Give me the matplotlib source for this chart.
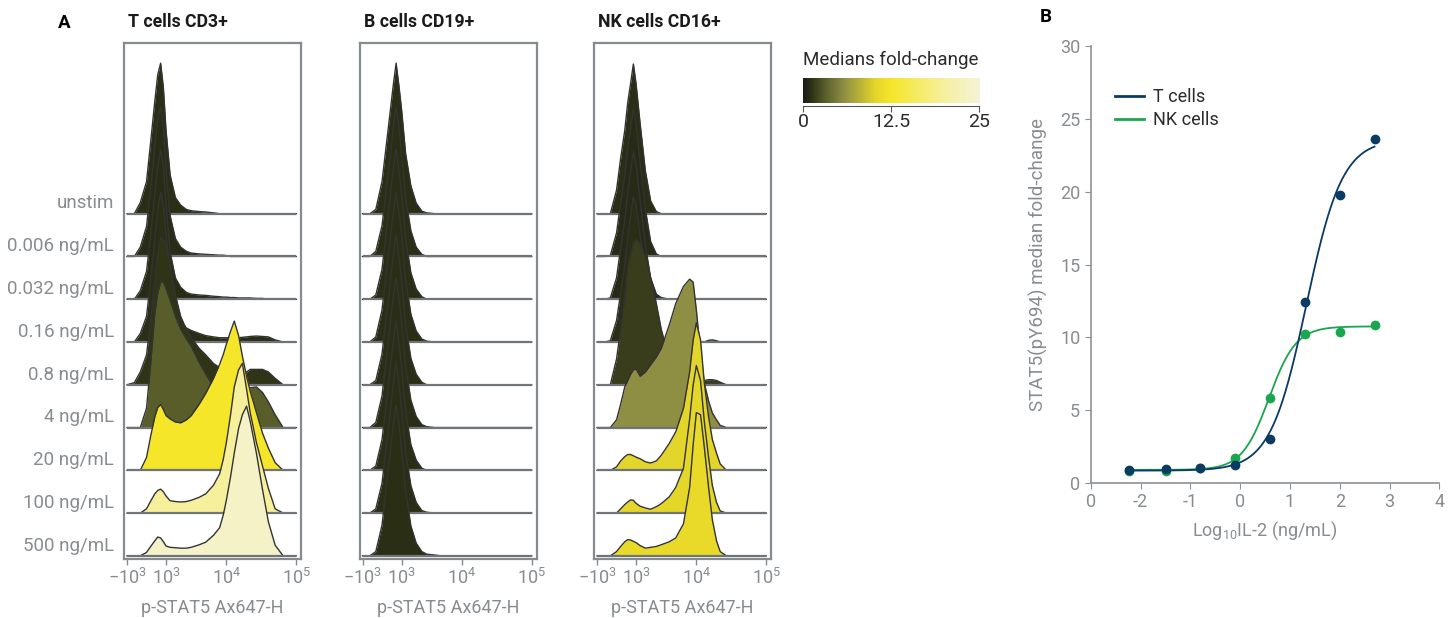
import numpy as np
import matplotlib
matplotlib.use("Agg")
import matplotlib.pyplot as plt
from matplotlib.colors import LinearSegmentedColormap, Normalize
from matplotlib.ticker import NullLocator

plt.rcParams['font.family'] = ['Roboto', 'DejaVu Sans']
plt.rcParams['mathtext.fontset'] = 'custom'
plt.rcParams['mathtext.rm'] = 'Roboto'
plt.rcParams['mathtext.it'] = 'Roboto:italic'
plt.rcParams['mathtext.bf'] = 'Roboto:bold'

# ---- stimulation conditions ----
row_labels = ['unstim', '0.006 ng/mL', '0.032 ng/mL', '0.16 ng/mL', '0.8 ng/mL',
              '4 ng/mL', '20 ng/mL', '100 ng/mL', '500 ng/mL']
il2_ng = [0.006, 0.032, 0.16, 0.8, 4, 20, 100, 500]

# median fold-change of p-STAT5 vs unstim
t_fold = [0.89, 0.97, 1.05, 1.27, 3.03, 12.42, 19.75, 23.6]
nk_fold = [0.84, 0.85, 1.0, 1.73, 5.84, 10.22, 10.36, 10.85]
b_fold = [1.0, 1.0, 0.98, 1.0, 1.01, 1.0, 0.99, 1.02, 1.0]

# 4PL fits (bottom, top, logEC50, hill)
t_fit = [0.85, 23.6, 1.33, 1.2]
nk_fit = [0.9, 10.75, 0.58, 1.6]

# ---- histogram channel grid (p-STAT5 Ax647-H) ----
intensity = [-1000, -600, -300, 0, 200, 400, 550, 700, 850, 1000, 1250, 1600,
             2000, 2500, 3000, 4000, 5000, 6500, 8000, 9000, 10000, 11500,
             13000, 15000, 17000, 19500, 22000, 27000, 33000, 40000, 50000,
             65000, 100000]

# modal-normalised counts, in units of row spacing (unstim first)
t_counts = [
    [0, 0, 0.26, 0.75, 1.68, 2.62, 3.25, 3.52, 2.95, 1.95, 0.9, 0.38, 0.2, 0.1, 0.07, 0.05, 0.04, 0.02, 0, 0, 0, 0, 0, 0, 0, 0, 0, 0, 0, 0, 0, 0, 0],
    [0, 0, 0.22, 0.7, 1.6, 2.55, 3.2, 3.5, 3.0, 2.0, 0.95, 0.42, 0.22, 0.12, 0.08, 0.06, 0.05, 0.04, 0.03, 0.03, 0.02, 0, 0, 0, 0, 0, 0, 0, 0, 0, 0, 0, 0],
    [0, 0, 0.2, 0.65, 1.5, 2.45, 3.1, 3.5, 3.1, 2.2, 1.1, 0.5, 0.28, 0.16, 0.12, 0.1, 0.09, 0.07, 0.06, 0.05, 0.05, 0.04, 0.04, 0.03, 0.03, 0.03, 0.03, 0.02, 0.02, 0, 0, 0, 0],
    [0, 0, 0.2, 0.6, 1.45, 2.4, 3.05, 3.5, 3.2, 2.5, 1.6, 0.9, 0.5, 0.33, 0.27, 0.2, 0.15, 0.12, 0.1, 0.1, 0.1, 0.1, 0.1, 0.1, 0.11, 0.12, 0.13, 0.14, 0.13, 0.12, 0.05, 0, 0],
    [0, 0.05, 0.3, 0.7, 1.5, 2.4, 3.0, 3.45, 3.4, 3.3, 2.8, 2.1, 1.6, 1.3, 1.1, 0.85, 0.7, 0.5, 0.4, 0.35, 0.3, 0.27, 0.25, 0.25, 0.25, 0.3, 0.36, 0.36, 0.36, 0.3, 0.15, 0, 0],
    [0, 0, 0, 0.45, 1.5, 2.65, 3.15, 3.4, 3.4, 3.25, 2.98, 2.6, 2.3, 2.07, 1.9, 1.52, 1.25, 0.96, 0.82, 0.75, 0.7, 0.66, 0.65, 0.66, 0.7, 0.82, 0.93, 0.95, 0.82, 0.6, 0.3, 0, 0],
    [0, 0, 0, 0.3, 0.8, 1.25, 1.47, 1.54, 1.42, 1.28, 1.2, 1.13, 1.11, 1.18, 1.28, 1.55, 1.8, 2.15, 2.48, 2.7, 2.95, 3.25, 3.49, 3.15, 2.67, 2.2, 1.85, 1.35, 0.87, 0.52, 0.18, 0, 0],
    [0, 0, 0, 0.1, 0.28, 0.45, 0.53, 0.56, 0.5, 0.4, 0.29, 0.27, 0.26, 0.27, 0.3, 0.37, 0.45, 0.65, 0.92, 1.25, 1.65, 2.3, 2.95, 3.35, 3.5, 2.9, 2.35, 1.65, 1.1, 0.58, 0.1, 0, 0],
    [0, 0, 0, 0.08, 0.22, 0.35, 0.44, 0.42, 0.33, 0.23, 0.2, 0.19, 0.18, 0.18, 0.2, 0.26, 0.32, 0.48, 0.66, 0.95, 1.3, 1.85, 2.4, 2.98, 3.3, 3.5, 3.15, 2.4, 1.55, 0.8, 0.25, 0, 0],
]

b_counts = [
    [0, 0, 0.1, 0.75, 1.58, 2.4, 3.0, 3.52, 3.0, 2.45, 1.4, 0.65, 0.25, 0.06, 0.02, 0, 0, 0, 0, 0, 0, 0, 0, 0, 0, 0, 0, 0, 0, 0, 0, 0, 0],
    [0, 0, 0.12, 0.72, 1.55, 2.35, 3.0, 3.5, 3.05, 2.4, 1.35, 0.6, 0.22, 0.05, 0, 0, 0, 0, 0, 0, 0, 0, 0, 0, 0, 0, 0, 0, 0, 0, 0, 0, 0],
    [0, 0, 0.1, 0.7, 1.55, 2.4, 3.05, 3.5, 3.0, 2.45, 1.4, 0.62, 0.24, 0.06, 0, 0, 0, 0, 0, 0, 0, 0, 0, 0, 0, 0, 0, 0, 0, 0, 0, 0, 0],
    [0, 0, 0.12, 0.75, 1.6, 2.4, 3.0, 3.5, 3.05, 2.5, 1.45, 0.65, 0.26, 0.07, 0.02, 0, 0, 0, 0, 0, 0, 0, 0, 0, 0, 0, 0, 0, 0, 0, 0, 0, 0],
    [0, 0, 0.1, 0.72, 1.58, 2.38, 3.0, 3.52, 3.0, 2.45, 1.4, 0.62, 0.25, 0.06, 0, 0, 0, 0, 0, 0, 0, 0, 0, 0, 0, 0, 0, 0, 0, 0, 0, 0, 0],
    [0, 0, 0.12, 0.74, 1.6, 2.42, 3.05, 3.5, 3.05, 2.45, 1.42, 0.64, 0.26, 0.07, 0.02, 0, 0, 0, 0, 0, 0, 0, 0, 0, 0, 0, 0, 0, 0, 0, 0, 0, 0],
    [0, 0, 0.1, 0.72, 1.56, 2.4, 3.0, 3.5, 3.0, 2.42, 1.38, 0.6, 0.24, 0.05, 0, 0, 0, 0, 0, 0, 0, 0, 0, 0, 0, 0, 0, 0, 0, 0, 0, 0, 0],
    [0, 0, 0.1, 0.7, 1.55, 2.38, 3.0, 3.52, 3.05, 2.45, 1.42, 0.64, 0.25, 0.06, 0.02, 0, 0, 0, 0, 0, 0, 0, 0, 0, 0, 0, 0, 0, 0, 0, 0, 0, 0],
    [0, 0, 0.1, 0.72, 1.58, 2.42, 3.05, 3.52, 3.1, 2.5, 1.5, 0.7, 0.3, 0.1, 0.04, 0.02, 0, 0, 0, 0, 0, 0, 0, 0, 0, 0, 0, 0, 0, 0, 0, 0, 0],
]

nk_counts = [
    [0, 0, 0, 0.55, 1.3, 1.95, 2.6, 3.05, 3.5, 3.05, 2.1, 1.0, 0.3, 0.05, 0, 0, 0, 0, 0, 0, 0, 0, 0, 0, 0, 0, 0, 0, 0, 0, 0, 0, 0],
    [0, 0, 0.02, 0.55, 1.25, 1.9, 2.55, 3.0, 3.45, 3.1, 2.2, 1.1, 0.35, 0.06, 0, 0, 0, 0, 0, 0, 0, 0, 0, 0, 0, 0, 0, 0, 0, 0, 0, 0, 0],
    [0, 0, 0.03, 0.5, 1.2, 1.85, 2.5, 3.0, 3.45, 3.15, 2.3, 1.25, 0.5, 0.12, 0.04, 0, 0, 0, 0, 0, 0, 0, 0, 0, 0, 0, 0, 0, 0, 0, 0, 0, 0],
    [0, 0, 0.03, 0.5, 1.15, 1.8, 2.45, 2.95, 3.4, 3.2, 2.5, 1.5, 0.7, 0.25, 0.1, 0.04, 0.02, 0, 0, 0, 0, 0, 0, 0.04, 0.05, 0.03, 0, 0, 0, 0, 0, 0, 0],
    [0, 0, 0, 0.6, 1.3, 2.05, 2.75, 3.05, 3.3, 3.4, 3.3, 3.0, 2.5, 1.9, 1.3, 0.6, 0.35, 0.2, 0.15, 0.12, 0.1, 0.1, 0.1, 0.12, 0.12, 0.1, 0.06, 0, 0, 0, 0, 0, 0],
    [0, 0, 0, 0.18, 0.55, 0.95, 1.1, 1.25, 1.35, 1.37, 1.2, 1.3, 1.47, 1.65, 1.85, 2.4, 2.9, 3.3, 3.47, 3.4, 2.75, 1.75, 1.05, 0.62, 0.34, 0.18, 0.05, 0, 0, 0, 0, 0, 0],
    [0, 0, 0, 0.08, 0.22, 0.32, 0.37, 0.37, 0.34, 0.31, 0.27, 0.2, 0.17, 0.22, 0.35, 0.63, 0.9, 1.45, 2.3, 3.05, 3.45, 3.05, 2.05, 1.25, 0.72, 0.4, 0.15, 0, 0, 0, 0, 0, 0],
    [0, 0, 0, 0, 0.1, 0.2, 0.26, 0.31, 0.3, 0.23, 0.16, 0.12, 0.09, 0.15, 0.22, 0.38, 0.6, 1.05, 2.2, 3.0, 3.45, 3.1, 2.15, 1.3, 0.64, 0.25, 0.05, 0, 0, 0, 0, 0, 0],
    [0, 0, 0, 0.1, 0.22, 0.33, 0.38, 0.37, 0.34, 0.31, 0.24, 0.18, 0.2, 0.22, 0.26, 0.33, 0.42, 0.75, 1.6, 2.6, 3.35, 3.3, 2.55, 1.6, 0.84, 0.35, 0.1, 0, 0, 0, 0, 0, 0],
]

panel_titles = ['T cells CD3+', 'B cells CD19+', 'NK cells CD16+']
panel_counts = [t_counts, b_counts, nk_counts]
panel_fold = [[1.0] + t_fold, b_fold, [1.0] + nk_fold]

# fold-change colour scale: black -> olive -> yellow -> cream
fold_cmap = LinearSegmentedColormap.from_list('fold', [
    (0.0, '#1c1c1c'), (0.04, '#2a2e14'), (0.12, '#585c2a'), (0.23, '#8e8e44'),
    (0.41, '#e4d62a'), (0.5, '#f6e62a'), (0.79, '#f6f09c'), (1.0, '#f5f3d8')])
fold_norm = Normalize(0, 25)

gray_txt = '#878c90'
dark_txt = '#2b2b2b'
spine_col = '#858b8f'

fig = plt.figure(figsize=(14.55, 6.18), dpi=100)

x = np.array(intensity, dtype=float)
panel_left = [124, 359.5, 594]
for k in range(3):
    ax = fig.add_axes([panel_left[k] / 1455, 0.095, 177 / 1455, 0.836])
    ax.set_xscale('asinh', linear_width=1457)
    ax.set_xlim(-1180, 1.17e5)
    ax.set_ylim(-0.08, 12.0)
    n = len(row_labels)
    for i in range(n):
        y0 = n - 1 - i
        h = np.array(panel_counts[k][i])
        col = fold_cmap(fold_norm(panel_fold[k][i]))
        z = 2 + 3 * i
        ax.fill_between(x, y0, y0 + h, color=col, lw=0, zorder=z)
        ax.plot(x, y0 + h, color='#333333', lw=1.0, zorder=z + 1)
        ax.plot([-1000, 1e5], [y0, y0], color='#6f7478', lw=1.6,
                solid_capstyle='butt', zorder=z + 2)
        if k == 0:
            ax.text(-0.056, y0 + 0.24, row_labels[i], transform=ax.get_yaxis_transform(),
                    ha='right', va='center', fontsize=13.5, color=gray_txt)
    ax.set_xticks([-1000, 1000, 10000, 100000])
    ax.set_xticklabels([r'$-10^3$', r'$10^3$', r'$10^4$', r'$10^5$'])
    ax.xaxis.set_minor_locator(NullLocator())
    ax.set_yticks([])
    ax.tick_params(axis='x', direction='out', length=4, width=1, color=spine_col,
                   labelcolor=gray_txt, labelsize=13, pad=2)
    ax.set_xlabel('p-STAT5 Ax647-H', fontsize=13, color=gray_txt, labelpad=8)
    for s in ax.spines.values():
        s.set_color(spine_col)
        s.set_linewidth(1.6)
    fig.text((panel_left[k] + 4) / 1455, 1 - 22 / 618, panel_titles[k],
             fontsize=12.7, fontweight='bold', color='#1a1a1a', va='center', ha='left')

fig.text(64 / 1455, 1 - 23 / 618, 'A', fontsize=13.5, fontweight='bold', ha='center', va='center')
fig.text(1046 / 1455, 1 - 17 / 618, 'B', fontsize=13.5, fontweight='bold', ha='center', va='center')

# colour bar for the histogram fills
cax = fig.add_axes([803 / 1455, 1 - 103 / 618, 176 / 1455, 25 / 618])
grad = np.linspace(0, 25, 256).reshape(1, -1)
cax.imshow(grad, extent=[0, 25, 0, 1], aspect='auto', cmap=fold_cmap, norm=fold_norm)
cax.set_xlim(0, 25)
cax.set_yticks([])
cax.set_xticks([0, 12.5, 25])
cax.set_xticklabels(['0', '12.5', '25'])
for side in ['top', 'left', 'right']:
    cax.spines[side].set_visible(False)
cax.spines['bottom'].set_color('#555555')
cax.spines['bottom'].set_position(('outward', 2))
cax.tick_params(axis='x', length=4, color='#555555', labelsize=14, labelcolor=dark_txt, pad=1)
fig.text(803 / 1455, 1 - 60 / 618, 'Medians fold-change', fontsize=13.5,
         color=dark_txt, ha='left', va='center')

# panel B: dose response
def four_pl(xv, p):
    bottom, top, ec50, hill = p
    return bottom + (top - bottom) / (1 + 10 ** ((ec50 - xv) * hill))

log_dose = np.log10(il2_ng)
xx = np.linspace(log_dose[0], log_dose[-1], 300)
t_col = '#0b3a63'
nk_col = '#19a64e'

bx = fig.add_axes([1090.7 / 1455, 1 - 483 / 618, 348.6 / 1455, 437 / 618])
bx.plot(xx, four_pl(xx, nk_fit), color=nk_col, lw=1.3, label='NK cells', zorder=2)
bx.plot(xx, four_pl(xx, t_fit), color=t_col, lw=1.3, label='T cells', zorder=3)
bx.plot(log_dose, nk_fold, 'o', color=nk_col, ms=6, zorder=4)
bx.plot(log_dose, t_fold, 'o', color=t_col, ms=6, zorder=5)
bx.set_xlim(-3, 4)
bx.set_ylim(0, 30)
bx.set_xticks(range(-3, 5))
bx.set_xticklabels(['0', '-2', '-1', '0', '1', '2', '3', '4'])
bx.set_yticks(range(0, 31, 5))
for side in ['top', 'right']:
    bx.spines[side].set_visible(False)
for side in ['left', 'bottom']:
    bx.spines[side].set_color('#8d9296')
    bx.spines[side].set_linewidth(1.2)
bx.tick_params(direction='out', length=4, color='#8d9296', labelcolor=gray_txt, labelsize=13)
bx.set_xlabel(r'Log$_{10}$IL-2 (ng/mL)', fontsize=13, color=gray_txt, labelpad=6)
bx.set_ylabel('STAT5(pY694) median fold-change', fontsize=13.5, color=gray_txt, labelpad=9)
handles, labels = bx.get_legend_handles_labels()
leg = bx.legend(handles[::-1], labels[::-1], loc='upper left', bbox_to_anchor=(0.024, 0.94),
                frameon=False, fontsize=13, handlelength=1.6, handletextpad=0.5,
                labelspacing=0.25)
for t in leg.get_texts():
    t.set_color(dark_txt)
for l in leg.get_lines():
    l.set_linewidth(2)

fig.savefig('out.png', dpi=100)
